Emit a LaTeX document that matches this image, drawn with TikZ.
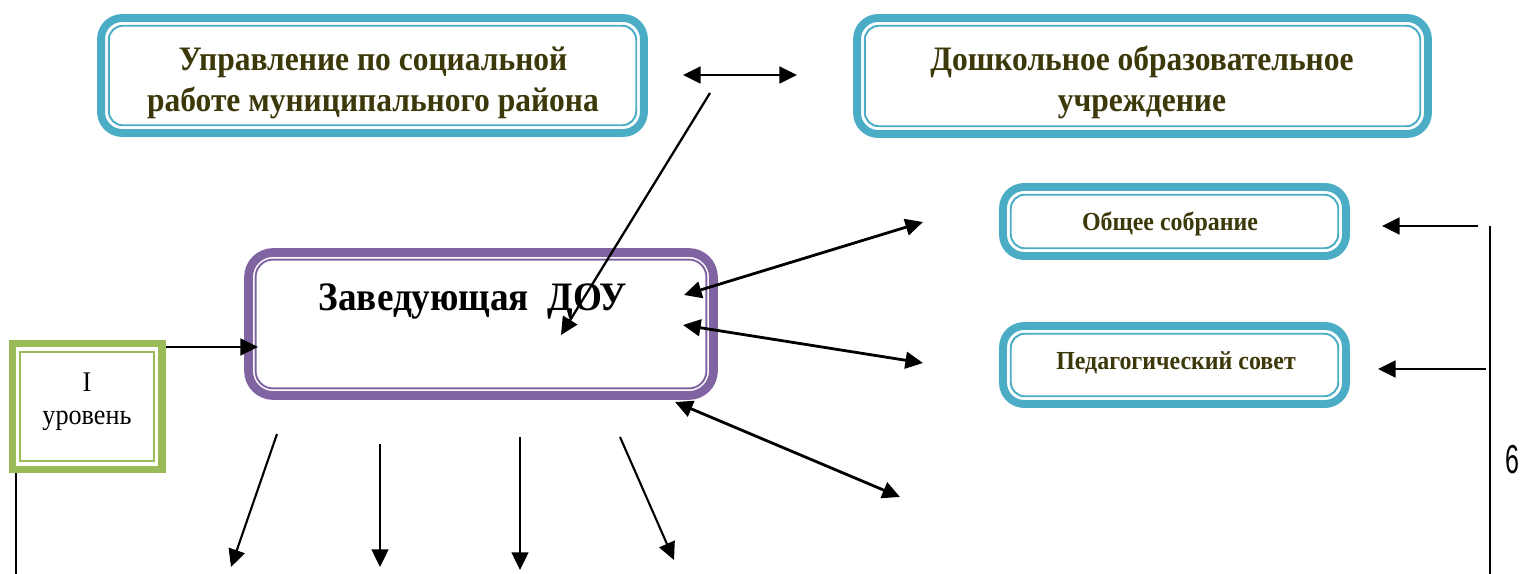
\documentclass[tikz,border=0pt]{standalone}
\usepackage{fontspec}
\setmainfont{Liberation Serif}[FakeStretch=0.92]
\newfontfamily\digitfont{Liberation Sans}[FakeStretch=0.62]
\usetikzlibrary{arrows.meta}
\definecolor{tealc}{RGB}{75,172,198}
\definecolor{purplec}{RGB}{128,100,162}
\definecolor{greenc}{RGB}{155,187,89}
\definecolor{olivec}{RGB}{60,56,10}
\begin{document}
\begin{tikzpicture}[x=0.02cm,y=-0.02cm,
  box/.style={draw, inner sep=0pt, outer sep=0pt, align=center, rectangle},
  tealbox/.style={box, draw=tealc, line width=4.5pt, rounded corners=12pt},
  purplebox/.style={box, draw=purplec, line width=5pt, rounded corners=14pt},
  greenbox/.style={box, draw=greenc, line width=4pt},
  tealinner/.style={draw=tealc, line width=1.1pt, rounded corners=8pt},
  purpleinner/.style={draw=purplec, line width=1.1pt, rounded corners=10pt},
  greeninner/.style={draw=greenc, line width=1.1pt},
  bigtext/.style={align=center, text=olivec, font=\bfseries\fontsize{19.5}{23.5}\selectfont},
  smalltext/.style={text=olivec, font=\bfseries\fontsize{14.8}{17}\selectfont},
  tip/.tip={Triangle[length=10pt,width=9.5pt]},
  conn/.style={line width=1.5pt, -tip},
  dconn/.style={line width=1.6pt, tip-tip},
  plain/.style={line width=1.1pt},
]
\useasboundingbox (0,0) rectangle (1522,574);
% boxes
\node[tealbox, minimum width=10.86cm, minimum height=2.3cm] (upr) at (372.5,75.5) {};
\node[bigtext] (uprt) at (373,83) {Управление по социальной\\работе муниципального района};
\node[tealbox, minimum width=11.42cm, minimum height=2.32cm] (dou) at (1142.5,76) {};
\node[bigtext] (dout) at (1142,82.5) {Дошкольное образовательное\\учреждение};
\node[tealbox, minimum width=6.86cm, minimum height=1.38cm] (obsh) at (1174.5,221.5) {};
\node[smalltext] (obsht) at (1170,224) {Общее собрание};
\node[tealbox, minimum width=6.86cm, minimum height=1.56cm] (ped) at (1174.5,365) {};
\node[smalltext] (pedt) at (1176,363) {Педагогический совет};
\node[purplebox, minimum width=9.3cm, minimum height=2.86cm] (zav) at (481,324) {};
\node[font=\bfseries\fontsize{23}{27}\selectfont] (zavt) at (473,301) {Заведующая\ \ ДОУ};
\node[greenbox, minimum width=3cm, minimum height=2.52cm] (lvl) at (87,406.5) {};
\node[align=center, font=\fontsize{16.2}{18.5}\selectfont] (lvlt) at (87,402) {I\\[0pt]уровень};
% inner outlines
\foreach \n in {upr,dou,obsh,ped}
  \draw[tealinner] ([xshift=4.4pt,yshift=-4.4pt]\n.north west) rectangle ([xshift=-4.4pt,yshift=4.4pt]\n.south east);
\draw[purpleinner] ([xshift=4pt,yshift=-4pt]zav.north west) rectangle ([xshift=-4pt,yshift=4pt]zav.south east);
\draw[greeninner] ([xshift=4.8pt,yshift=-4.8pt]lvl.north west) rectangle ([xshift=-4.8pt,yshift=4.8pt]lvl.south east);
% label 6
\node[font=\digitfont\fontsize{23}{26}\selectfont] (six) at (1512,460) {6};
% coordinates
\coordinate (h1) at (683,75);  \coordinate (h2) at (797,75);
\coordinate (d1) at (710,93);  \coordinate (d2) at (561,335);
\coordinate (a1) at (684,295); \coordinate (a2) at (923,222);
\coordinate (b1) at (683,325); \coordinate (b2) at (923,363);
\coordinate (e1) at (675,402); \coordinate (e2) at (900,497);
\coordinate (g1) at (166,347); \coordinate (g2) at (258,347);
\coordinate (s1) at (277,434); \coordinate (s2) at (231,567);
\coordinate (t1) at (380,444); \coordinate (t2) at (380,567);
\coordinate (u1) at (520,437); \coordinate (u2) at (520,570);
\coordinate (v1) at (620,437); \coordinate (v2) at (674,560);
\coordinate (r1) at (1490,226); \coordinate (r2) at (1490,574);
\coordinate (p1) at (1478,226); \coordinate (p2) at (1382,226);
\coordinate (q1) at (1486,369); \coordinate (q2) at (1378,369);
\coordinate (l1) at (16,473); \coordinate (l2) at (16,574);
% connectors
\draw[dconn] (h1) -- (h2);
\draw[conn, line width=1.3pt] (d1) -- (d2);
\draw[dconn] (a1) -- (a2);
\draw[dconn] (b1) -- (b2);
\draw[dconn] (e1) -- (e2);
\draw[conn] (g1) -- (g2);
\draw[conn, line width=1.2pt] (s1) -- (s2);
\draw[conn, line width=1.2pt] (t1) -- (t2);
\draw[conn, line width=1.2pt] (u1) -- (u2);
\draw[conn, line width=1.2pt] (v1) -- (v2);
\draw[plain] (r1) -- (r2);
\draw[conn] (p1) -- (p2);
\draw[conn] (q1) -- (q2);
\draw[plain] (l1) -- (l2);
\end{tikzpicture}
\end{document}
